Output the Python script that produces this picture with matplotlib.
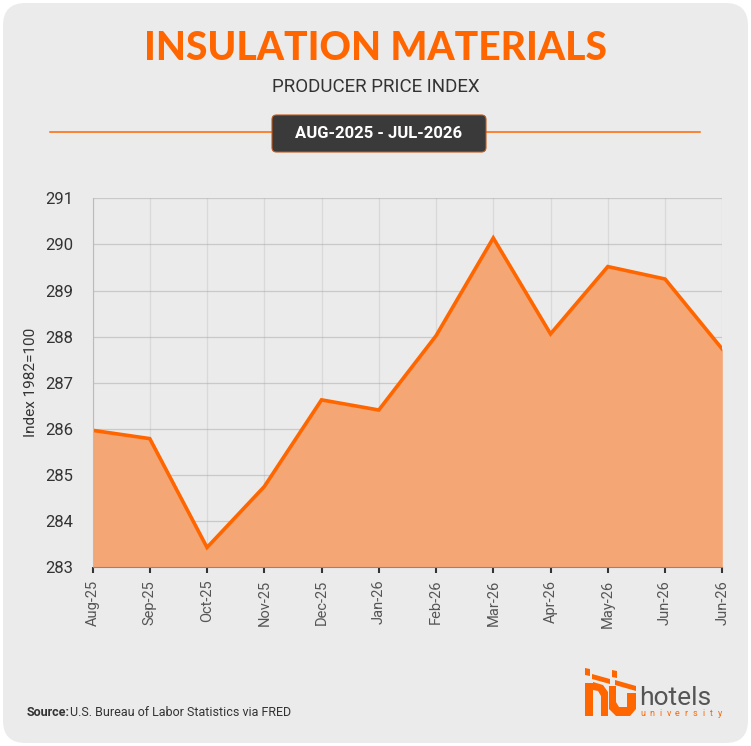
import matplotlib
matplotlib.use("Agg")
import matplotlib.pyplot as plt
from matplotlib.patches import FancyBboxPatch, Polygon
from matplotlib.lines import Line2D

months = ["Aug-25", "Sep-25", "Oct-25", "Nov-25", "Dec-25", "Jan-26",
          "Feb-26", "Mar-26", "Apr-26", "May-26", "Jun-26", "Jun-26"]
values = [285.97, 285.79, 283.43, 284.75, 286.63, 286.41,
          288.02, 290.14, 288.06, 289.52, 289.25, 287.73]
yticks = [283, 284, 285, 286, 287, 288, 289, 290, 291]

W, H = 751, 746
fig = plt.figure(figsize=(W / 100, H / 100), dpi=100)
fig.patch.set_facecolor("white")

def fx(px):
    return px / W

def fy(py):
    return 1 - py / H

bg = FancyBboxPatch((0.004, 0.004), 0.992, 0.992,
                    boxstyle="round,pad=0,rounding_size=0.03",
                    transform=fig.transFigure, facecolor="#EBEBEB",
                    edgecolor="none", zorder=-10)
fig.patches.append(bg)

ORANGE = "#FF6600"
FILL = "#F4A674"

# Title
fig.text(0.5, fy(49), "INSULATION MATERIALS", ha="center", va="center",
         fontsize=28, fontweight="black", family="Lato", color=ORANGE)
fig.text(0.5, fy(87), "PRODUCER PRICE INDEX", ha="center", va="center",
         fontsize=13.5, family="Roboto", color="#333333")

# Orange rule and date box
fig.add_artist(Line2D([fx(50), fx(700)], [fy(132), fy(132)],
                      transform=fig.transFigure, color=ORANGE, lw=1.1, zorder=1))
box = FancyBboxPatch((fx(272), fy(152)), fx(486) - fx(272), fy(115) - fy(152),
                     boxstyle="round,pad=0,rounding_size=0.006",
                     transform=fig.transFigure, facecolor="#3A3A3A",
                     edgecolor="#C0581A", lw=0.8, zorder=2)
fig.patches.append(box)
fig.text(fx(379), fy(133.5), "AUG-2025 - JUL-2026", ha="center", va="center",
         fontsize=12, fontweight="bold", family="Roboto", color="white", zorder=3)

# Axes
left, right, top, bottom = 92.5, 722.3, 198.3, 567.3
ax = fig.add_axes([fx(left), fy(bottom), fx(right) - fx(left), (bottom - top) / H])
ax.set_facecolor("#EBEBEB")
x = list(range(len(values)))
ax.fill_between(x, values, 283, color=FILL, zorder=2, lw=0)
ax.plot(x, values, color=ORANGE, lw=2.6, zorder=3, solid_joinstyle="miter")
ax.set_xlim(0, len(values) - 1)
ax.set_ylim(283, 291)
ax.set_yticks(yticks)
ax.set_yticklabels([str(v) for v in yticks], fontsize=12, family="Roboto", color="#333333")
ax.set_xticks(x)
ax.set_xticklabels(months, rotation=90, fontsize=10.5, family="Roboto", color="#555555")
ax.grid(axis="y", color="#A8A8A8", lw=0.9)
ax.grid(axis="x", color="#C8C8C8", lw=0.9)
for gl in ax.get_xgridlines() + ax.get_ygridlines():
    gl.set_zorder(4)
    gl.set_alpha(0.5)
for s in ["top", "right"]:
    ax.spines[s].set_visible(False)
ax.spines["left"].set_color("#BBBBBB")
ax.spines["bottom"].set_color("#888888")
ax.spines["left"].set_zorder(5)
ax.spines["bottom"].set_zorder(5)
ax.tick_params(axis="y", length=0, pad=14)
ax.tick_params(axis="x", length=4, width=1.5, color="#333333", pad=5)
ax.set_ylabel("Index 1982=100", fontsize=11, family="Roboto", color="#333333", labelpad=5)

# Source
fig.text(fx(27), fy(713), "Source:", ha="left", va="center", fontsize=9,
         fontweight="bold", family="Roboto", color="#333333")
fig.text(fx(70), fy(713), "U.S. Bureau of Labor Statistics via FRED", ha="left",
         va="center", fontsize=9, family="Roboto", color="#333333")

# Logo
def poly(pts, color=ORANGE):
    fig.patches.append(Polygon([(fx(a), fy(b)) for a, b in pts], closed=True,
                               transform=fig.transFigure, facecolor=color,
                               edgecolor="none", zorder=3))

# 'h'
poly([(585, 668), (590, 669), (590, 676), (585, 675)])
poly([(585, 683), (593, 683), (593, 716), (585, 716)])
poly([(593, 682), (603, 685), (608, 692), (608, 716), (601, 716), (601, 696), (598, 691), (593, 690)])
poly([(592, 674), (610, 679), (610, 684), (592, 679)])
# 'u'
poly([(612, 670), (617, 671), (617, 678), (612, 677)])
poly([(615, 680), (636, 686), (636, 691), (615, 685)])
poly([(609, 686), (616, 686), (616, 702), (619, 707), (627, 707), (627, 693), (636, 693),
      (636, 709), (630, 716), (616, 716), (609, 709)])
fig.text(fx(639), fy(698), "hotels", ha="left", va="center", fontsize=19,
         family="Roboto", color="#555555")
for i, ch in enumerate("university"):
    fig.text(fx(643 + i * 8.6), fy(714), ch, ha="center", va="center", fontsize=6.5,
             family="Roboto", color=ORANGE)

fig.savefig("out.png", dpi=100, facecolor=fig.get_facecolor())
